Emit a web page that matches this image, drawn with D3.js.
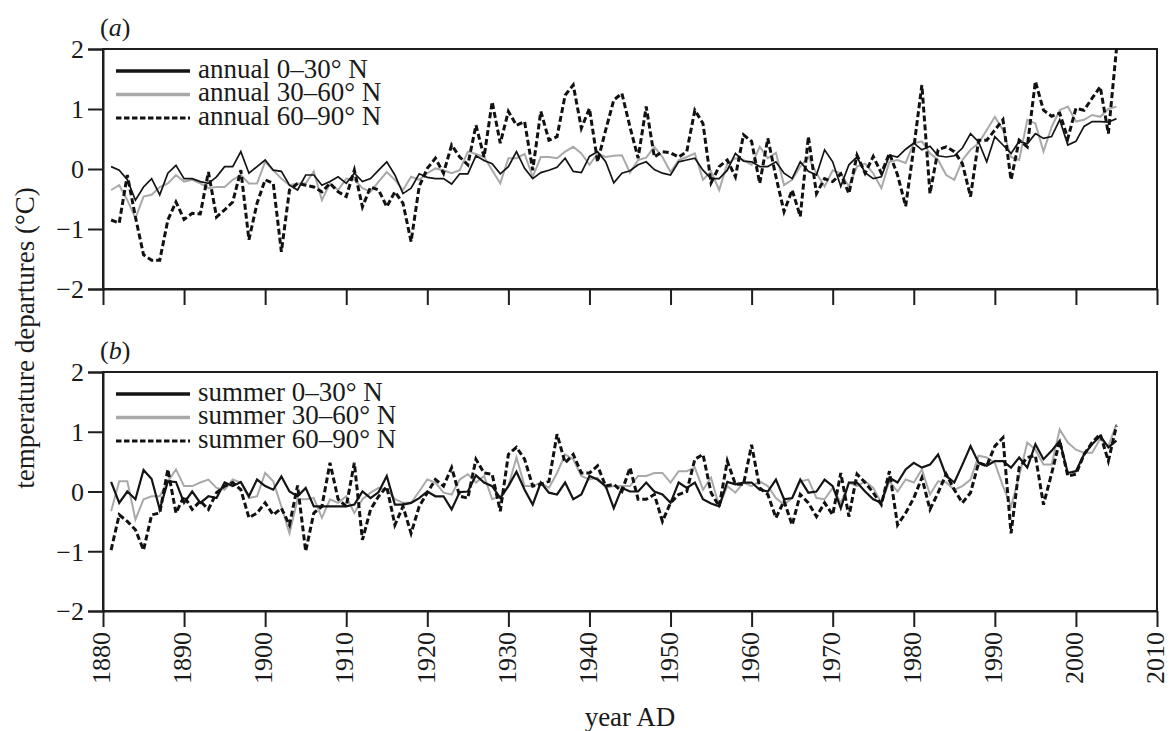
<!DOCTYPE html>
<html>
<head>
<meta charset="utf-8">
<script src="https://cdn.jsdelivr.net/npm/d3@7"></script>
<style>
  body { margin: 0; background: #fff; }
  text { font-family: "Liberation Serif", "Times New Roman", serif; fill: #1a1a1a; }
</style>
</head>
<body>
<svg id="chart" width="1170" height="731"></svg>
<script>
// Temperature departures (°C) by latitude band, 1881–2005
const years = d3.range(1881, 2006);

const annual0_30 = [
  0.04, -0.02, -0.18, -0.52, -0.30, -0.16, -0.43, -0.07, 0.06, -0.16,
  -0.16, -0.21, -0.24, -0.13, 0.04, 0.04, 0.29, -0.07, 0.04, 0.15,
  -0.02, -0.04, -0.27, -0.35, -0.10, -0.10, -0.27, -0.21, -0.13, -0.24,
  -0.07, -0.21, -0.16, -0.02, 0.12, -0.10, -0.41, -0.32, -0.08, -0.14,
  -0.16, -0.16, -0.25, -0.08, -0.08, 0.22, 0.14, 0.09, -0.08, 0.04,
  0.29, 0.01, -0.16, -0.06, -0.02, 0.03, 0.18, -0.04, -0.06, 0.21,
  0.29, 0.12, -0.23, -0.07, -0.03, 0.07, 0.12, -0.01, -0.07, -0.10,
  0.12, 0.15, 0.18, -0.02, -0.16, -0.16, -0.02, 0.26, 0.13, 0.12,
  0.04, 0.04, 0.12, -0.07, -0.16, 0.12, -0.04, -0.10, 0.32, 0.12,
  -0.29, 0.07, 0.20, -0.06, -0.16, -0.13, 0.23, 0.20, 0.33, 0.43,
  0.32, 0.38, 0.22, 0.20, 0.22, 0.35, 0.59, 0.45, 0.12, 0.54,
  0.40, 0.26, 0.46, 0.42, 0.59, 0.51, 0.54, 0.82, 0.40, 0.46,
  0.71, 0.79, 0.79, 0.78, 0.84
];
const annual30_60 = [
  -0.35, -0.27, -0.52, -0.82, -0.46, -0.43, -0.30, -0.24, -0.10, -0.21,
  -0.18, -0.24, -0.32, -0.30, -0.30, -0.18, -0.10, -0.24, -0.24, 0.12,
  -0.02, -0.16, -0.27, -0.24, -0.24, -0.04, -0.52, -0.24, -0.35, -0.16,
  -0.18, -0.32, -0.38, -0.21, -0.05, -0.18, -0.35, -0.13, -0.18, -0.07,
  0.01, -0.02, -0.07, -0.02, 0.29, 0.25, 0.20, -0.02, -0.24, 0.18,
  0.18, 0.25, -0.13, 0.20, 0.20, 0.18, 0.29, 0.37, 0.26, 0.07,
  0.26, 0.20, 0.22, 0.23, -0.06, 0.15, 0.19, 0.37, 0.20, -0.05,
  0.15, 0.20, 0.26, -0.18, -0.04, -0.35, 0.09, 0.18, 0.15, 0.07,
  0.37, 0.18, 0.27, -0.27, -0.18, 0.04, 0.20, -0.07, -0.29, -0.02,
  -0.07, -0.29, 0.04, 0.09, -0.07, -0.32, 0.12, 0.15, 0.10, 0.43,
  0.46, 0.26, 0.15, -0.10, -0.18, 0.15, 0.32, 0.43, 0.65, 0.87,
  0.65, 0.20, 0.15, 0.82, 0.76, 0.29, 0.70, 0.98, 1.04, 0.79,
  0.82, 0.90, 0.87, 1.00, 1.04
];
const annual60_90 = [
  -0.85, -0.90, -0.10, -0.80, -1.43, -1.52, -1.52, -0.85, -0.55, -0.84,
  -0.74, -0.75, -0.05, -0.80, -0.68, -0.55, -0.02, -1.18, -0.57, -0.18,
  -0.24, -1.38, -0.35, -0.24, -0.27, -0.30, -0.38, -0.24, -0.38, -0.46,
  -0.02, -0.63, -0.30, -0.35, -0.63, -0.38, -0.57, -1.21, -0.29, 0.01,
  0.18, -0.07, 0.40, 0.20, 0.07, 0.73, 0.20, 1.12, 0.43, 0.96,
  0.73, 0.79, -0.02, 0.96, 0.48, 0.54, 1.23, 1.40, 0.68, 1.01,
  0.12, 0.65, 1.15, 1.26, 0.70, 0.18, 1.04, 0.20, 0.29, 0.27,
  0.20, 0.29, 0.98, 0.76, -0.23, 0.04, 0.15, -0.13, 0.57, 0.46,
  -0.24, 0.51, -0.13, -0.71, -0.35, -0.79, 0.54, -0.41, -0.16, -0.21,
  -0.08, -0.41, 0.23, -0.07, 0.21, -0.07, 0.26, -0.10, -0.62, 0.35,
  1.40, -0.41, 0.32, 0.37, 0.29, 0.09, -0.46, 0.48, 0.48, 0.65,
  0.82, -0.18, 0.48, 0.37, 1.46, 0.98, 0.88, 0.93, 0.51, 1.01,
  0.98, 1.18, 1.37, 0.59, 2.00
];

const summer0_30 = [
  0.16, -0.19, 0.00, -0.13, 0.36, 0.21, -0.30, 0.17, 0.16, -0.19,
  0.00, -0.19, -0.08, -0.11, 0.15, 0.09, 0.16, -0.08, 0.20, 0.09,
  0.03, 0.25, 0.00, -0.08, 0.06, -0.25, -0.25, -0.25, -0.25, -0.25,
  -0.22, 0.00, -0.11, -0.01, 0.26, -0.22, -0.22, -0.19, -0.11, 0.00,
  -0.08, -0.08, -0.30, -0.01, 0.00, 0.27, 0.15, 0.09, -0.11, 0.09,
  0.33, 0.03, -0.22, 0.15, -0.02, -0.05, 0.15, -0.13, -0.05, 0.26,
  0.20, 0.09, -0.28, 0.06, 0.00, 0.00, 0.15, 0.00, -0.05, -0.19,
  0.15, 0.06, 0.15, -0.13, -0.20, -0.25, 0.16, 0.12, 0.15, 0.15,
  0.03, 0.00, 0.20, -0.13, -0.11, 0.20, -0.02, 0.00, 0.20, 0.09,
  -0.28, 0.15, 0.15, 0.00, -0.13, -0.19, 0.23, 0.15, 0.37, 0.48,
  0.40, 0.45, 0.62, 0.26, 0.15, 0.45, 0.76, 0.48, 0.43, 0.51,
  0.51, 0.40, 0.57, 0.40, 0.79, 0.54, 0.68, 0.85, 0.31, 0.34,
  0.62, 0.79, 0.93, 0.74, 0.85
];
const summer30_60 = [
  -0.33, 0.17, 0.17, -0.47, -0.13, -0.08, -0.08, 0.17, 0.37, 0.09,
  0.09, 0.15, 0.20, 0.06, 0.03, 0.20, 0.15, -0.11, -0.08, 0.31,
  0.17, -0.25, -0.70, -0.13, -0.13, -0.11, -0.44, -0.13, -0.19, -0.08,
  -0.36, -0.13, -0.02, 0.06, 0.03, -0.13, -0.19, -0.19, 0.00, 0.20,
  0.15, -0.02, -0.05, 0.20, 0.29, 0.15, 0.26, -0.13, -0.08, 0.09,
  0.57, 0.09, 0.09, 0.15, 0.06, 0.31, 0.62, 0.54, 0.26, 0.20,
  0.23, 0.06, 0.09, 0.09, 0.09, 0.26, 0.26, 0.31, 0.31, 0.15,
  0.34, 0.34, 0.40, 0.03, 0.23, -0.25, 0.09, -0.02, 0.15, 0.09,
  0.17, 0.09, -0.11, -0.22, -0.11, 0.17, 0.20, -0.11, -0.13, 0.06,
  -0.19, 0.15, 0.09, 0.17, 0.06, -0.19, 0.17, 0.00, 0.20, 0.15,
  0.37, -0.05, 0.17, 0.15, 0.03, 0.09, 0.20, 0.60, 0.57, 0.48,
  0.09, -0.25, 0.26, 0.82, 0.70, 0.45, 0.45, 1.04, 0.82, 0.70,
  0.65, 0.65, 0.88, 0.76, 1.13
];
const summer60_90 = [
  -0.98, -0.39, -0.50, -0.64, -0.98, -0.39, -0.36, 0.37, -0.36, -0.08,
  -0.30, -0.16, -0.30, -0.02, 0.09, 0.15, 0.03, -0.44, -0.36, -0.19,
  -0.39, -0.28, -0.56, 0.10, -1.00, -0.36, -0.25, 0.48, -0.13, -0.25,
  0.48, -0.81, -0.30, -0.08, 0.08, -0.56, -0.25, -0.70, -0.25, -0.02,
  0.20, 0.09, 0.40, -0.08, -0.11, 0.54, 0.31, 0.29, -0.33, 0.62,
  0.74, 0.54, 0.09, 0.12, 0.17, 0.96, 0.48, 0.62, 0.31, 0.31,
  0.43, 0.09, 0.12, 0.00, 0.40, -0.13, -0.13, -0.05, -0.50, -0.19,
  -0.05, 0.00, 0.54, 0.62, -0.02, -0.25, 0.51, 0.12, 0.12, 0.78,
  0.06, -0.05, -0.44, -0.16, -0.56, -0.05, -0.19, -0.42, -0.19, -0.39,
  0.31, -0.42, 0.29, 0.15, -0.02, -0.22, 0.34, -0.56, -0.36, -0.11,
  0.23, -0.30, -0.02, 0.29, 0.03, -0.19, -0.02, 0.48, 0.43, 0.76,
  0.90, -0.70, 0.40, 0.57, 0.60, -0.22, 0.30, 0.85, 0.26, 0.29,
  0.62, 0.82, 0.96, 0.51, 1.10
];

const yTicks = [-2, -1, 0, 1, 2];
const xTicks = d3.range(1880, 2011, 10);

// line styles per latitude band
const bandStyle = {
  b0_30:  { color: "#141414", width: 1.7, dash: null },
  b30_60: { color: "#a9a9a9", width: 2.0, dash: null },
  b60_90: { color: "#111111", width: 3.0, dash: "6,3" }
};

const panels = [
  {
    tag: "a", top: 49, bottom: 289, showYears: false,
    series: [
      { label: "annual 0–30° N",  values: annual0_30,  style: "b0_30" },
      { label: "annual 30–60° N", values: annual30_60, style: "b30_60" },
      { label: "annual 60–90° N", values: annual60_90, style: "b60_90" }
    ]
  },
  {
    tag: "b", top: 372, bottom: 611, showYears: true,
    series: [
      { label: "summer 0–30° N",  values: summer0_30,  style: "b0_30", width: 2.2 },
      { label: "summer 30–60° N", values: summer30_60, style: "b30_60" },
      { label: "summer 60–90° N", values: summer60_90, style: "b60_90" }
    ]
  }
];

const svg = d3.select("#chart");
const left = 103, right = 1157;
const x = d3.scaleLinear().domain([1880, 2010]).range([left, right]);
const fmt = d => d3.format("d")(d).replace("-", "\u2212");

panels.forEach(p => {
  const y = d3.scaleLinear().domain([-2, 2]).range([p.bottom, p.top]);
  const g = svg.append("g");

  g.append("clipPath").attr("id", "clip-" + p.tag)
    .append("rect").attr("x", left).attr("y", p.top)
    .attr("width", right - left).attr("height", p.bottom - p.top);

  // panel frame
  g.append("rect")
    .attr("x", left).attr("y", p.top)
    .attr("width", right - left).attr("height", p.bottom - p.top)
    .attr("fill", "none").attr("stroke", "#1e1e1e").attr("stroke-width", 2);

  // y axis
  const yAxis = g.append("g").attr("transform", `translate(${left},0)`)
    .call(d3.axisLeft(y).tickValues(yTicks).tickSize(15).tickFormat(fmt));
  yAxis.select(".domain").attr("stroke", "#1e1e1e").attr("stroke-width", 2);
  yAxis.selectAll(".tick line").attr("stroke", "#1e1e1e").attr("stroke-width", 2);
  yAxis.selectAll(".tick text").attr("font-size", 26).attr("x", -19)
    .attr("dy", "0.34em")
    .style("font-family", "'Liberation Serif', serif");

  // x axis
  const xAxis = g.append("g").attr("transform", `translate(0,${p.bottom})`)
    .call(d3.axisBottom(x).tickValues(xTicks).tickSize(16).tickSizeOuter(0)
      .tickFormat(p.showYears ? d3.format("d") : () => ""));
  xAxis.select(".domain").attr("stroke", "#1e1e1e").attr("stroke-width", 2);
  xAxis.selectAll(".tick line").attr("stroke", "#1e1e1e").attr("stroke-width", 2);
  if (p.showYears) {
    xAxis.selectAll(".tick text")
      .attr("font-size", 26)
      .style("font-family", "'Liberation Serif', serif")
      .attr("text-anchor", "end")
      .attr("transform", "rotate(-90)")
      .attr("x", -21).attr("y", 0).attr("dy", "0.26em");
  }

  // series lines
  const lineGen = d3.line()
    .x((d, i) => x(years[i]))
    .y(d => y(d));
  const plot = g.append("g").attr("clip-path", `url(#clip-${p.tag})`);
  [1, 0, 2].forEach(k => {
    const s = p.series[k];
    const st = bandStyle[s.style];
    plot.append("path")
      .datum(s.values)
      .attr("d", lineGen)
      .attr("fill", "none")
      .attr("stroke", st.color)
      .attr("stroke-width", s.width || st.width)
      .attr("stroke-linejoin", "miter")
      .attr("stroke-dasharray", st.dash);
  });

  // legend
  const leg = g.append("g");
  p.series.forEach((s, i) => {
    const st = bandStyle[s.style];
    const ly = p.top + 22 + i * 23.5;
    leg.append("line")
      .attr("x1", 116).attr("x2", 190).attr("y1", ly).attr("y2", ly)
      .attr("stroke", st.color)
      .attr("stroke-width", st.dash ? 3 : 3.5)
      .attr("stroke-dasharray", st.dash ? "5.5,2.5" : null);
    leg.append("text")
      .attr("x", 198).attr("y", ly + 6.5)
      .attr("font-size", 27)
      .text(s.label);
  });

  // panel tag
  const tag = g.append("text").attr("x", 100).attr("y", p.top - 13).attr("font-size", 26);
  tag.append("tspan").text("(");
  tag.append("tspan").attr("font-style", "italic").text(p.tag);
  tag.append("tspan").text(")");
});

// axis titles
svg.append("text")
  .attr("transform", "translate(34,338) rotate(-90)")
  .attr("text-anchor", "middle")
  .attr("font-size", 27)
  .text("temperature departures (°C)");

svg.append("text")
  .attr("x", 630).attr("y", 726)
  .attr("text-anchor", "middle")
  .attr("font-size", 27)
  .text("year AD");
</script>
</body>
</html>
